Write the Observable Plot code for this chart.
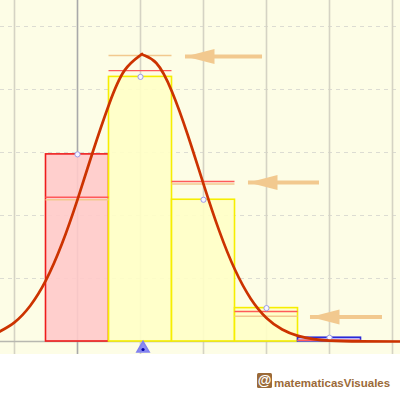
<!DOCTYPE html>
<html>
<head>
<meta charset="utf-8">
<script src="https://cdn.jsdelivr.net/npm/d3@7"></script>
<script src="https://cdn.jsdelivr.net/npm/@observablehq/plot@0.6"></script>
<style>
  html, body { margin: 0; padding: 0; background: #ffffff; }
  #wrap { width: 400px; height: 400px; overflow: hidden; }
  #chart svg { display: block; }
</style>
</head>
<body>
<div id="wrap">
  <div id="chart"></div>
  <div id="mark"></div>
</div>
<script>
// ---- data ----
const k = [0, 1, 2, 3, 4];
const barProb = [0.297, 0.420, 0.225, 0.053, 0.006];        // bar heights
const barKind = ["left", "mid", "mid", "mid", "right"];      // colour group
const areaLevel = [0.229, 0.430, 0.254, 0.0476, 0.002];     // red segments
const densLevel = [0.225, 0.454, 0.250, 0.040, 0.0015];     // tan segments
const curveX = [-1.25, -1.0, -0.75, -0.5, -0.25, 0, 0.25, 0.5, 0.75, 1.0, 1.04, 1.25, 1.5, 1.75, 2.0, 2.25, 2.5, 2.75, 3.0, 3.25, 3.5, 3.75, 4.0, 4.5, 5.25];
const curveY = [0.0150, 0.0304, 0.0567, 0.0973, 0.1542, 0.2252, 0.3032, 0.3763, 0.4307, 0.4544, 0.4549, 0.4420, 0.3965, 0.3278, 0.2499, 0.1756, 0.1138, 0.0680, 0.0374, 0.0190, 0.0089, 0.0038, 0.0015, 0.0002, 0];
const arrowTip = [1.714, 2.714, 3.698];
const arrowTail = [2.937, 3.841, 4.841];
const arrowLevel = [0.4524, 0.2524, 0.0389];
const meanValue = [1.04];
const gridX = [-1, 1, 2, 3, 4, 5];
const gridY = [0.1, 0.2, 0.3, 0.4, 0.5];
const brand = "matematicasVisuales";

// ---- tables ----
const bars = k.map((v, i) => ({k: v, p: barProb[i], kind: barKind[i], area: areaLevel[i], dens: densLevel[i]}));
const curve = curveX.map((x, i) => ({x, y: curveY[i]}));
const arrows = arrowTip.map((t, i) => ({tip: t, tail: arrowTail[i], y: arrowLevel[i]}));

const fillOf = {left: "#ffcaca", mid: "#ffffc6", right: "#b4b4ff"};
const strokeOf = {left: "#ee1c1c", mid: "#f6ee00", right: "#2a2ad8"};
const tan = "#f2c98f";

const arrowHead = {
  draw(ctx) {
    ctx.moveTo(0, 0);
    ctx.lineTo(29, -7.5);
    ctx.lineTo(29, 7.5);
    ctx.closePath();
  }
};

const chart = Plot.plot({
  width: 400,
  height: 354,
  margin: 0,
  x: {domain: [-77 / 63, 323 / 63], axis: null},
  y: {domain: [-13 / 630, 341 / 630], axis: null},
  style: {background: "#fdfde6", overflow: "hidden"},
  marks: [
    Plot.ruleY(gridY, {stroke: "#dcdcd2", strokeWidth: 1, strokeDasharray: "4,4"}),
    Plot.ruleX(gridX, {stroke: "#d5d3c4", strokeWidth: 1.6}),
    Plot.ruleY([0], {stroke: "#b8b8b0", strokeWidth: 1.5}),
    Plot.ruleX([0], {stroke: "#a9a9a9", strokeWidth: 1.6}),
    Plot.rectY(bars, {x1: d => d.k - 0.5, x2: d => d.k + 0.5, y1: 0, y2: "p",
      fill: d => fillOf[d.kind], stroke: d => strokeOf[d.kind], strokeWidth: 1.6, fillOpacity: 0.9}),
    Plot.ruleY(bars, {y: "dens", x1: d => d.k - 0.5, x2: d => d.k + 0.5, stroke: tan, strokeWidth: 1.5}),
    Plot.ruleY(bars, {y: "area", x1: d => d.k - 0.5, x2: d => d.k + 0.5, stroke: "#ff5a5a", strokeWidth: 1.3}),
    Plot.dot(bars, {x: "k", y: "p", r: 2.6, stroke: "#9c9ce8", fill: "#f6f6ff", strokeWidth: 1}),
    Plot.line(curve, {x: "x", y: "y", curve: "natural", stroke: "#cc3300", strokeWidth: 2.7}),
    Plot.ruleY(arrows, {y: "y", x1: "tip", x2: "tail", stroke: tan, strokeWidth: 3.8}),
    Plot.dot(arrows, {x: "tip", y: "y", symbol: arrowHead, fill: tan, r: 5}),
    Plot.dot(meanValue, {x: d => d, y: 0, dy: 7, symbol: "triangle", r: 4.6, fill: "#7878f0", fillOpacity: 0.85, stroke: "#8080f0"}),
    Plot.dot(meanValue, {x: d => d, y: 0, dy: 8, r: 1.6, fill: "#0000aa"})
  ]
});
document.getElementById("chart").appendChild(chart);

// watermark strip
const mark = d3.select("#mark").append("svg").attr("width", 400).attr("height", 46)
  .style("display", "block").style("background", "#ffffff");
mark.append("rect").attr("x", 257).attr("y", 19).attr("width", 15).attr("height", 15)
  .attr("rx", 1.5).attr("fill", "#9b6a38");
mark.append("text").attr("x", 264.5).attr("y", 31).attr("text-anchor", "middle")
  .attr("font-family", "Liberation Sans, Arial, sans-serif").attr("font-weight", "bold")
  .attr("font-size", 14).attr("fill", "#ffffff").text("@");
mark.append("text").attr("x", 274).attr("y", 33)
  .attr("font-family", "Liberation Sans, Arial, sans-serif").attr("font-weight", "bold")
  .attr("font-size", 11.5).attr("fill", "#9b6a38").text(brand);
</script>
</body>
</html>
